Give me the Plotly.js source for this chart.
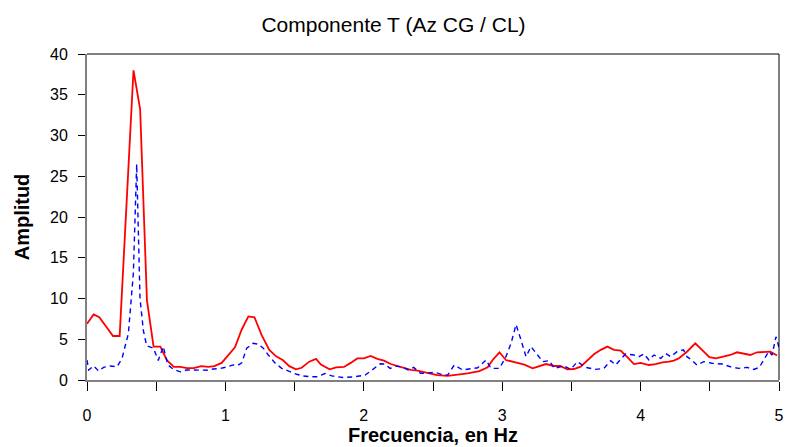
<!DOCTYPE html>
<html>
<head>
<meta charset="utf-8">
<script src="https://cdn.plot.ly/plotly-3.0.1.min.js"></script>
<style>html,body{margin:0;padding:0;background:#fff}#chart{width:787px;height:447px}</style>
</head>
<body>
<div id="chart"></div>
<script>
// Red solid series (frequency in Hz, amplitude)
const redFreq = [0, 0.048, 0.089, 0.188, 0.236, 0.336, 0.384, 0.433, 0.481, 0.530, 0.578, 0.628, 0.676, 0.722, 0.770, 0.826, 0.876, 0.920, 0.973, 1.021, 1.069, 1.118, 1.166, 1.210, 1.262, 1.317, 1.366, 1.414, 1.462, 1.510, 1.551, 1.606, 1.655, 1.690, 1.753, 1.801, 1.857, 1.905, 1.953, 2.000, 2.050, 2.098, 2.146, 2.194, 2.242, 2.290, 2.339, 2.387, 2.435, 2.483, 2.530, 2.606, 2.666, 2.750, 2.835, 2.895, 2.931, 2.980, 3.027, 3.100, 3.160, 3.220, 3.268, 3.316, 3.374, 3.420, 3.470, 3.518, 3.567, 3.615, 3.663, 3.712, 3.760, 3.808, 3.856, 3.904, 3.952, 4.000, 4.060, 4.109, 4.157, 4.205, 4.240, 4.275, 4.335, 4.395, 4.444, 4.497, 4.545, 4.600, 4.648, 4.697, 4.745, 4.793, 4.841, 4.890, 4.937, 4.986];
const redAmp = [6.9, 8.05, 7.7, 5.4, 5.4, 38.0, 33.2, 9.8, 4.1, 4.1, 2.4, 1.6, 1.6, 1.45, 1.45, 1.7, 1.6, 1.7, 2.1, 3.05, 4.0, 6.2, 7.8, 7.7, 5.5, 3.7, 2.9, 2.45, 1.7, 1.3, 1.5, 2.25, 2.6, 1.9, 1.3, 1.55, 1.6, 2.1, 2.65, 2.65, 2.95, 2.6, 2.37, 1.96, 1.7, 1.5, 1.23, 1.15, 0.94, 0.82, 0.6, 0.5, 0.6, 0.82, 1.1, 1.55, 2.45, 3.4, 2.45, 2.17, 1.88, 1.43, 1.7, 1.96, 1.72, 1.72, 1.3, 1.35, 1.63, 2.45, 3.15, 3.7, 4.1, 3.7, 3.6, 2.8, 1.96, 2.1, 1.84, 1.96, 2.17, 2.25, 2.37, 2.65, 3.47, 4.5, 3.7, 2.8, 2.65, 2.86, 3.07, 3.4, 3.27, 3.07, 3.4, 3.43, 3.47, 3.0];

// Blue dashed series
const blueFreq = [0, 0.012, 0.048, 0.084, 0.120, 0.168, 0.217, 0.253, 0.299, 0.335, 0.359, 0.383, 0.407, 0.431, 0.480, 0.515, 0.551, 0.585, 0.626, 0.674, 0.720, 0.770, 0.818, 0.865, 0.913, 0.960, 1.010, 1.057, 1.090, 1.118, 1.154, 1.200, 1.238, 1.274, 1.310, 1.358, 1.407, 1.467, 1.515, 1.563, 1.610, 1.660, 1.720, 1.770, 1.850, 1.920, 2.010, 2.060, 2.120, 2.150, 2.190, 2.240, 2.283, 2.320, 2.360, 2.410, 2.450, 2.512, 2.560, 2.606, 2.654, 2.714, 2.775, 2.823, 2.883, 2.919, 2.980, 3.027, 3.064, 3.100, 3.136, 3.172, 3.208, 3.244, 3.293, 3.340, 3.377, 3.447, 3.495, 3.543, 3.603, 3.675, 3.735, 3.784, 3.820, 3.856, 3.892, 3.952, 3.988, 4.025, 4.060, 4.097, 4.145, 4.181, 4.217, 4.263, 4.310, 4.335, 4.370, 4.407, 4.456, 4.516, 4.588, 4.648, 4.709, 4.769, 4.817, 4.858, 4.890, 4.925, 4.950, 4.978, 5.000];
const blueAmp = [2.45, 1.23, 1.72, 1.1, 1.55, 1.72, 1.63, 2.65, 5.7, 13.1, 26.5, 10.0, 6.1, 4.2, 3.9, 2.4, 4.1, 1.84, 1.3, 1.0, 1.23, 1.2, 1.15, 1.2, 1.35, 1.4, 1.6, 1.85, 1.8, 2.1, 3.9, 4.5, 4.4, 3.9, 3.07, 2.1, 1.43, 1.0, 0.7, 0.5, 0.4, 0.4, 0.8, 0.5, 0.3, 0.37, 0.6, 1.23, 2.0, 1.96, 1.43, 1.7, 1.55, 1.23, 1.55, 0.82, 0.82, 0.94, 0.7, 0.6, 1.84, 1.23, 1.43, 1.5, 2.45, 1.43, 1.43, 2.86, 4.5, 6.8, 4.9, 2.86, 4.1, 3.27, 2.25, 2.37, 1.43, 1.72, 1.3, 2.25, 1.55, 1.3, 1.43, 2.37, 1.84, 2.54, 3.2, 3.07, 2.86, 3.2, 2.45, 3.07, 2.65, 3.27, 2.86, 3.47, 3.7, 2.86, 2.45, 1.84, 2.25, 2.05, 1.96, 1.63, 1.43, 1.55, 1.3, 1.55, 2.45, 3.47, 3.07, 5.3, 4.0];

const xTickVals = [0, 1, 2, 3, 4, 5];
const xTickText = ['0', '1', '2', '3', '4', '5'];
const yTickVals = [0, 5, 10, 15, 20, 25, 30, 35, 40];

const FONT = 'Liberation Sans, Arial, sans-serif';

const traces = [
  {x: redFreq, y: redAmp, type: 'scatter', mode: 'lines',
   line: {color: '#FF0000', width: 1.8}, hoverinfo: 'skip'},
  {x: blueFreq, y: blueAmp, type: 'scatter', mode: 'lines',
   line: {color: '#0000FF', width: 1.4, dash: '5px,4px'}, hoverinfo: 'skip'}
];

const layout = {
  width: 787, height: 447,
  margin: {l: 87, r: 8, t: 54, b: 67},
  paper_bgcolor: '#fff', plot_bgcolor: '#fff',
  showlegend: false,
  font: {family: FONT, color: '#000', size: 16},
  title: {text: 'Componente T (Az CG / CL)', font: {family: FONT, size: 21, color: '#000'},
          x: 0.5, xref: 'container', y: 0.945, yanchor: 'middle'},
  xaxis: {
    range: [0, 5], showgrid: false, zeroline: false,
    showline: true, linecolor: '#808080', linewidth: 2,
    ticks: 'outside', ticklen: 9, tickwidth: 1, tickcolor: '#000',
    tickvals: xTickVals, ticktext: xTickText,
    minor: {tickvals: [0.5, 1.5, 2.5, 3.5, 4.5], ticks: 'outside', ticklen: 9, tickwidth: 1, tickcolor: '#000'},
    ticklabelstandoff: 11,
    tickfont: {family: FONT, size: 16, color: '#000'},
    title: {text: '<b>Frecuencia, en Hz</b>', font: {family: FONT, size: 20, color: '#000'}, standoff: 3}
  },
  yaxis: {
    range: [0, 40], showgrid: false, zeroline: false,
    showline: true, linecolor: '#808080', linewidth: 2,
    ticks: 'outside', ticklen: 7, tickwidth: 1, tickcolor: '#000',
    tickvals: yTickVals,
    ticklabelstandoff: 7,
    tickfont: {family: FONT, size: 16, color: '#000'},
    title: {text: '<b>Amplitud</b>', font: {family: FONT, size: 20, color: '#000'}, standoff: 15}
  },
  shapes: [
    {type: 'line', xref: 'paper', yref: 'paper', x0: 0, x1: 1, y0: 1, y1: 1, line: {color: '#000', width: 1}},
    {type: 'line', xref: 'paper', yref: 'paper', x0: 1, x1: 1, y0: 0, y1: 1, line: {color: '#000', width: 1}}
  ]
};

Plotly.newPlot('chart', traces, layout, {displayModeBar: false, staticPlot: true});
</script>
</body>
</html>
